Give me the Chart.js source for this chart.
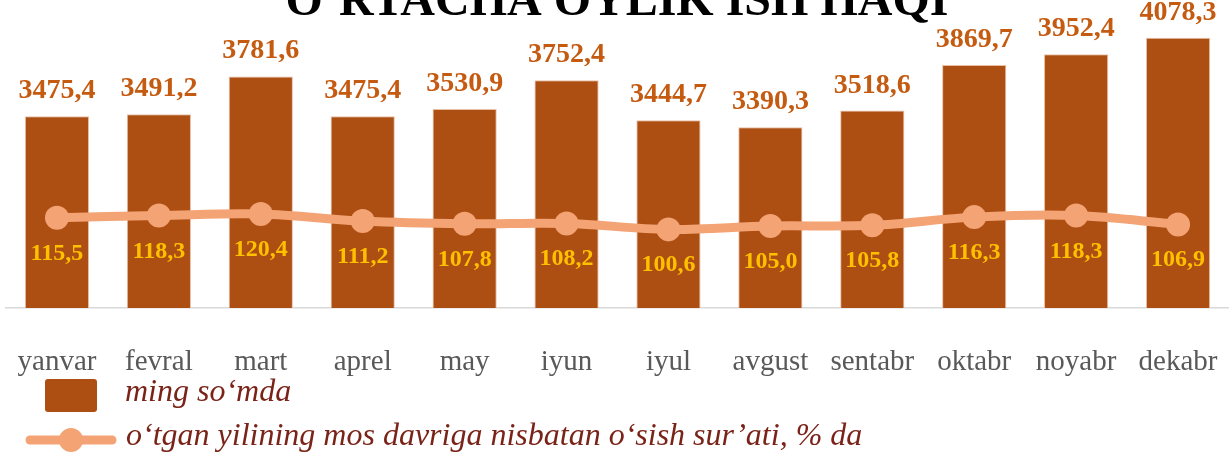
<!DOCTYPE html>
<html>
<head>
<meta charset="utf-8">
<script src="https://cdn.jsdelivr.net/npm/chart.js@4.4.1/dist/chart.umd.min.js"></script>
<style>
    html, body { margin: 0; padding: 0; background: #fff; overflow: hidden; }
    #wrap { position: relative; width: 1229px; height: 452px; }
</style>
</head>
<body>
<div id="wrap"><canvas id="salaryChart" width="1229" height="452"></canvas></div>
<script>
const chartTitle = 'O‘RTACHA OYLIK ISH HAQI';
const months = ['yanvar', 'fevral', 'mart', 'aprel', 'may', 'iyun', 'iyul', 'avgust', 'sentabr', 'oktabr', 'noyabr', 'dekabr'];
const salary = [3475.4, 3491.2, 3781.6, 3475.4, 3530.9, 3752.4, 3444.7, 3390.3, 3518.6, 3869.7, 3952.4, 4078.3];
const growth = [115.5, 118.3, 120.4, 111.2, 107.8, 108.2, 100.6, 105.0, 105.8, 116.3, 118.3, 106.9];
const salaryLabel = 'ming so‘mda';
const growthLabel = 'o‘tgan yilining mos davriga nisbatan o‘sish sur’ati, % da';

const SERIF = "'Times New Roman', 'Liberation Serif', serif";
const BAR_COLOR = '#AD4E12';
const LINE_COLOR = '#F3A374';

function fmt(v) {
    return v.toFixed(1).replace('.', ',');
}

// подписи значений над столбцами и под точками
const valueLabels = {
    id: 'valueLabels',
    afterDatasetsDraw(chart) {
        const ctx = chart.ctx;
        ctx.save();
        ctx.textAlign = 'center';
        ctx.textBaseline = 'alphabetic';
        ctx.font = 'bold 28px ' + SERIF;
        ctx.fillStyle = '#C55A11';
        chart.getDatasetMeta(0).data.forEach((bar, i) => {
            ctx.fillText(fmt(salary[i]), bar.x, bar.y - 18);
        });
        ctx.font = 'bold 24px ' + SERIF;
        ctx.fillStyle = '#FFC000';
        chart.getDatasetMeta(1).data.forEach((pt, i) => {
            ctx.fillText(fmt(growth[i]), pt.x, pt.y + 42);
        });
        ctx.restore();
    }
};

// заголовок (обрезан сверху) и легенда в две строки
const titleAndLegend = {
    id: 'titleAndLegend',
    afterDraw(chart) {
        const ctx = chart.ctx;
        const ds = chart.data.datasets;
        ctx.save();
        ctx.fillStyle = '#000';
        ctx.font = 'bold 48px ' + SERIF;
        ctx.textAlign = 'center';
        ctx.textBaseline = 'alphabetic';
        ctx.fillText(chartTitle, 617, 15);

        ctx.fillStyle = ds[0].backgroundColor;
        ctx.beginPath();
        ctx.roundRect(45, 379, 52, 33, 3);
        ctx.fill();

        ctx.strokeStyle = ds[1].borderColor;
        ctx.lineWidth = 9;
        ctx.lineCap = 'round';
        ctx.beginPath();
        ctx.moveTo(30, 440);
        ctx.lineTo(112, 440);
        ctx.stroke();
        ctx.fillStyle = ds[1].borderColor;
        ctx.beginPath();
        ctx.arc(71, 440, 12, 0, Math.PI * 2);
        ctx.fill();

        ctx.fillStyle = '#7A2318';
        ctx.font = 'italic 32px ' + SERIF;
        ctx.textAlign = 'left';
        ctx.fillText(ds[0].label, 125, 401);
        ctx.fillText(ds[1].label, 126, 445);
        ctx.restore();
    }
};

const ctx = document.getElementById('salaryChart').getContext('2d');
const salaryChart = new Chart(ctx, {
    data: {
        labels: months,
        datasets: [
            {
                type: 'bar',
                label: salaryLabel,
                data: salary,
                backgroundColor: BAR_COLOR,
                borderColor: '#E9BFA5',
                borderWidth: 1,
                barPercentage: 0.63,
                categoryPercentage: 1,
                yAxisID: 'y',
                order: 1
            },
            {
                type: 'line',
                label: growthLabel,
                data: growth,
                borderColor: LINE_COLOR,
                backgroundColor: LINE_COLOR,
                borderWidth: 9,
                pointRadius: 12,
                pointBackgroundColor: LINE_COLOR,
                pointBorderWidth: 0,
                tension: 0.35,
                yAxisID: 'y1',
                order: 0
            }
        ]
    },
    options: {
        responsive: false,
        devicePixelRatio: 1,
        animation: false,
        layout: {
            autoPadding: false,
            padding: { top: 22, left: 6, right: -1, bottom: 74 }
        },
        plugins: {
            legend: { display: false },
            title: { display: false },
            tooltip: { enabled: false }
        },
        scales: {
            x: {
                grid: { display: false, drawTicks: false },
                border: { display: true, color: '#D9D9D9', width: 1.5 },
                ticks: {
                    color: '#595959',
                    font: { family: SERIF, size: 29 },
                    padding: 37,
                    autoSkip: false,
                    maxRotation: 0
                },
                afterFit(scale) {
                    scale.paddingLeft = 0;
                    scale.paddingRight = 0;
                    scale.height = 70;
                }
            },
            y: { display: false, min: 2000, max: 4200 },
            y1: { display: false, min: 0, max: 366 }
        }
    },
    plugins: [valueLabels, titleAndLegend]
});
</script>
</body>
</html>
